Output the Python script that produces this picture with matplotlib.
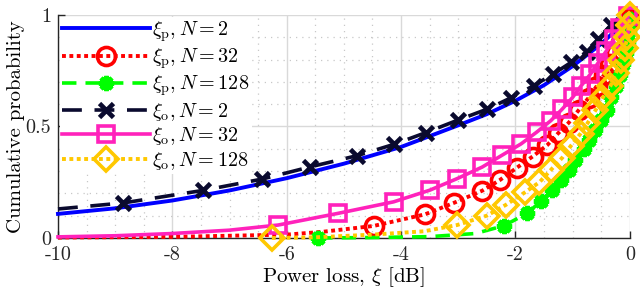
import matplotlib
matplotlib.use("Agg")
import matplotlib.pyplot as plt
from matplotlib.ticker import MultipleLocator

plt.rcParams['font.family'] = ['cmr10', 'DejaVu Serif']
plt.rcParams['mathtext.fontset'] = 'cm'
plt.rcParams['axes.unicode_minus'] = False
plt.rcParams['axes.formatter.use_mathtext'] = False

# ---- data ----
# xi_p, N=2 (blue solid)
p2_x = [-10, -9, -8, -7, -6, -5, -4, -3, -2.5, -2, -1.5, -1, -0.5, -0.25, 0]
p2_y = [0.108, 0.133, 0.168, 0.213, 0.268, 0.333, 0.408, 0.505, 0.555, 0.615, 0.685, 0.77, 0.87, 0.93, 1.0]

# xi_p, N=32 (red dotted, circles)
p32_x = [-10, -8, -6, -5.36, -4.48, -3.58, -3.07, -2.58, -2.27, -1.98, -1.70, -1.44, -1.25, -1.07,
         -0.89, -0.72, -0.58, -0.45, -0.34, -0.24, -0.15, -0.08, -0.02]
p32_y = [0.002, 0.005, 0.015, 0.028, 0.054, 0.106, 0.158, 0.212, 0.260, 0.314, 0.365, 0.417, 0.470, 0.516,
         0.574, 0.628, 0.680, 0.730, 0.780, 0.830, 0.880, 0.930, 0.980]
p32_mark = list(range(4, 23))

# xi_p, N=128 (green dashed, asterisks)
p128_x = [-5.45, -4.5, -3.5, -2.7, -2.2, -1.8, -1.55, -1.36, -1.21, -1.06, -0.95, -0.80, -0.71, -0.60,
          -0.50, -0.40, -0.32, -0.24, -0.17, -0.11, -0.07, -0.03, -0.01, 0]
p128_y = [0.0, 0.002, 0.006, 0.02, 0.055, 0.110, 0.165, 0.215, 0.258, 0.305, 0.350, 0.398, 0.440, 0.486,
          0.530, 0.575, 0.630, 0.680, 0.730, 0.780, 0.830, 0.880, 0.930, 0.980]
p128_mark = [0] + list(range(4, 24))

# xi_o, N=2 (black dashed, x)
o2_x = [-10, -8.86, -7.47, -6.43, -5.6, -4.77, -4.12, -3.57, -3.0, -2.49, -2.08, -1.68, -1.34, -1.02,
        -0.75, -0.55, -0.33, 0]
o2_y = [0.13, 0.157, 0.213, 0.264, 0.318, 0.369, 0.42, 0.472, 0.529, 0.578, 0.628, 0.683, 0.735, 0.788,
        0.835, 0.89, 0.955, 1.0]
o2_mark = list(range(1, 17))

# xi_o, N=32 (magenta solid, squares)
o32_x = [-10, -9, -8, -7, -6.15, -5.11, -4.13, -3.50, -3.02, -2.58, -2.24, -1.90, -1.63, -1.38, -1.18,
         -1.00, -0.85, -0.69, -0.55, -0.41, -0.28, -0.17, -0.03]
o32_y = [0.005, 0.01, 0.02, 0.035, 0.058, 0.110, 0.162, 0.214, 0.266, 0.318, 0.370, 0.422, 0.474, 0.526,
         0.578, 0.630, 0.682, 0.734, 0.786, 0.838, 0.890, 0.942, 0.994]
o32_mark = list(range(4, 23))

# xi_o, N=128 (yellow dotted, diamonds)
o128_x = [-6.26, -5.5, -4.5, -3.6, -3.02, -2.5, -2.17, -1.83, -1.58, -1.38, -1.18, -1.03, -0.86, -0.74,
          -0.60, -0.48, -0.34, -0.24, -0.15, -0.09, -0.04, -0.01, 0]
o128_y = [0.0, 0.003, 0.015, 0.03, 0.058, 0.100, 0.148, 0.205, 0.250, 0.305, 0.360, 0.413, 0.468, 0.514,
          0.572, 0.626, 0.680, 0.740, 0.800, 0.850, 0.900, 0.955, 1.0]
o128_mark = [0] + list(range(4, 23))

labels = [r'$\xi_\mathrm{p}, N=2$', r'$\xi_\mathrm{p}, N=32$', r'$\xi_\mathrm{p}, N=128$',
          r'$\xi_\mathrm{o}, N=2$', r'$\xi_\mathrm{o}, N=32$', r'$\xi_\mathrm{o}, N=128$']

fig = plt.figure(figsize=(6.4, 2.92), dpi=100)
ax = fig.add_axes([0.0906, 0.185, 0.8934, 0.764])

blue = '#0000FF'
red = '#FF0000'
green = '#00FF00'
navy = '#0A0A2E'
magenta = '#FF22BB'
yellow = '#FFC800'

dot = (0, (1, 0.9))

ax.plot(p2_x, p2_y, '-', color=blue, lw=2.8, label=labels[0], clip_on=False, zorder=3)
ax.plot(p32_x, p32_y, color=red, lw=2.8, ls=dot, marker='o', ms=13, mew=2.6, mfc='none',
        markevery=p32_mark, label=labels[1], clip_on=False, zorder=3)
ax.plot(p128_x, p128_y, color=green, lw=2.6, ls=(0, (4, 2.5)), marker=(8, 2, 0), ms=11, mew=3.2,
        markevery=p128_mark, label=labels[2], clip_on=False, zorder=3)
ax.plot(o2_x, o2_y, color=navy, lw=2.6, ls=(0, (5.5, 3.5)), marker='x', ms=10, mew=3.4,
        markevery=o2_mark, label=labels[3], clip_on=False, zorder=3)
ax.plot(o32_x, o32_y, '-', color=magenta, lw=2.6, marker='s', ms=11, mew=2.6, mfc='none',
        markevery=o32_mark, label=labels[4], clip_on=False, zorder=3)
ax.plot(o128_x, o128_y, color=yellow, lw=2.8, ls=dot, marker='D', ms=12, mew=2.6, mfc='none',
        markevery=o128_mark, label=labels[5], clip_on=False, zorder=3)

ax.set_xlim(-10, 0)
ax.set_ylim(0, 1)
ax.set_xticks([-10, -8, -6, -4, -2, 0])
ax.set_xticklabels(['-10', '-8', '-6', '-4', '-2', '0'])
ax.set_yticks([0, 0.5, 1])
ax.set_yticklabels(['0', '0.5', '1'])
ax.xaxis.set_minor_locator(MultipleLocator(0.5))
ax.yaxis.set_minor_locator(MultipleLocator(0.1))
ax.grid(True, which='major', color='#D9D9D9', lw=1.0, ls='-')
ax.grid(True, which='minor', color='#C8C8C8', lw=0.9, ls=(0, (1, 4)))
ax.set_axisbelow(True)
ax.tick_params(which='major', direction='in', length=5, width=1, labelsize=14.5,
               top=False, right=False, colors='#262626')
ax.tick_params(axis='x', pad=6)
ax.tick_params(axis='y', pad=5)
ax.tick_params(which='minor', length=0)
for s in ['top', 'right']:
    ax.spines[s].set_visible(False)
for s in ['left', 'bottom']:
    ax.spines[s].set_color('#262626')
    ax.spines[s].set_linewidth(1.0)

ax.set_xlabel(r'Power loss, $\xi$ [dB]', fontsize=15, labelpad=1)
ax.set_ylabel('Cumulative probability', fontsize=15, labelpad=0)

leg = ax.legend(loc='upper left', bbox_to_anchor=(0.003, 0.99), fontsize=14.5, frameon=True,
                handlelength=4.4, handletextpad=0.1, labelspacing=0.13, borderaxespad=0.0,
                borderpad=0.1)
leg.get_frame().set_edgecolor('none')
leg.get_frame().set_facecolor('white')
leg.get_frame().set_alpha(1)

fig.savefig('out.png', dpi=100)
